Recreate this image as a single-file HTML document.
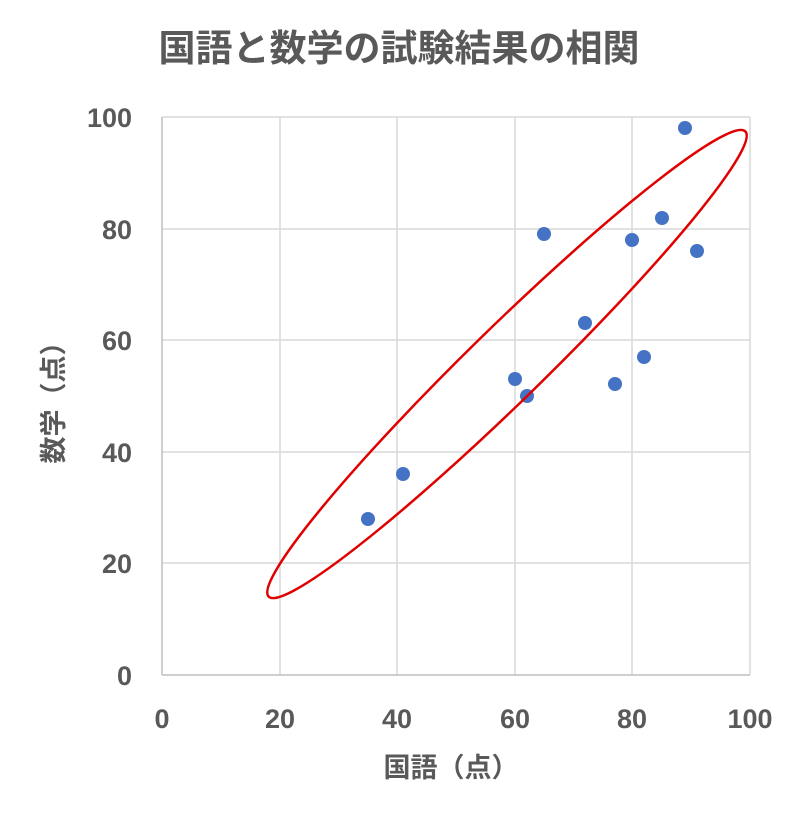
<!DOCTYPE html>
<html><head><meta charset="utf-8"><style>body{margin:0;background:#fff}</style></head><body>
<svg width="800" height="817" xmlns="http://www.w3.org/2000/svg" font-family="Liberation Sans, Noto Sans CJK JP, sans-serif" font-weight="bold" fill="#595959">
<rect width="800" height="817" fill="#fff"/>
<text x="399" y="61" text-anchor="middle" font-size="37">国語と数学の試験結果の相関</text>
<g stroke="#d9d9d9" stroke-width="1.5">
<line x1="162" y1="117" x2="750" y2="117"/><line x1="162" y1="229" x2="750" y2="229"/>
<line x1="162" y1="340" x2="750" y2="340"/><line x1="162" y1="452" x2="750" y2="452"/>
<line x1="162" y1="563" x2="750" y2="563"/>
<line x1="280" y1="117" x2="280" y2="675"/><line x1="397" y1="117" x2="397" y2="675"/>
<line x1="515" y1="117" x2="515" y2="675"/><line x1="632" y1="117" x2="632" y2="675"/>
<line x1="750" y1="117" x2="750" y2="675"/>
</g>
<g stroke="#bfbfbf" stroke-width="1.5"><line x1="162" y1="117" x2="162" y2="675"/><line x1="162" y1="675" x2="750" y2="675"/></g>
<g font-size="27" text-anchor="end">
<text x="132" y="127">100</text><text x="132" y="239">80</text><text x="132" y="350">60</text>
<text x="132" y="462">40</text><text x="132" y="573">20</text><text x="132" y="685">0</text>
</g>
<g font-size="27" text-anchor="middle">
<text x="162" y="728">0</text><text x="280" y="728">20</text><text x="397" y="728">40</text>
<text x="515" y="728">60</text><text x="632" y="728">80</text><text x="750" y="728">100</text>
</g>
<text x="451" y="777" text-anchor="middle" font-size="27">国語（点）</text>
<text transform="translate(63,396) rotate(-90)" text-anchor="middle" font-size="27">数学（点）</text>
<g fill="#4472c4">
<circle cx="368" cy="519" r="7"/><circle cx="403" cy="474" r="7"/><circle cx="515" cy="379" r="7"/>
<circle cx="527" cy="396" r="7"/><circle cx="544" cy="234" r="7"/><circle cx="585" cy="323" r="7"/>
<circle cx="615" cy="384" r="7"/><circle cx="632" cy="240" r="7"/><circle cx="644" cy="357" r="7"/>
<circle cx="662" cy="218" r="7"/><circle cx="685" cy="128" r="7"/><circle cx="697" cy="251" r="7"/>
</g>
<ellipse cx="507" cy="364" rx="333" ry="37" transform="rotate(-44.3 507 364)" fill="none" stroke="#e00000" stroke-width="2.5"/>
</svg>
</body></html>
